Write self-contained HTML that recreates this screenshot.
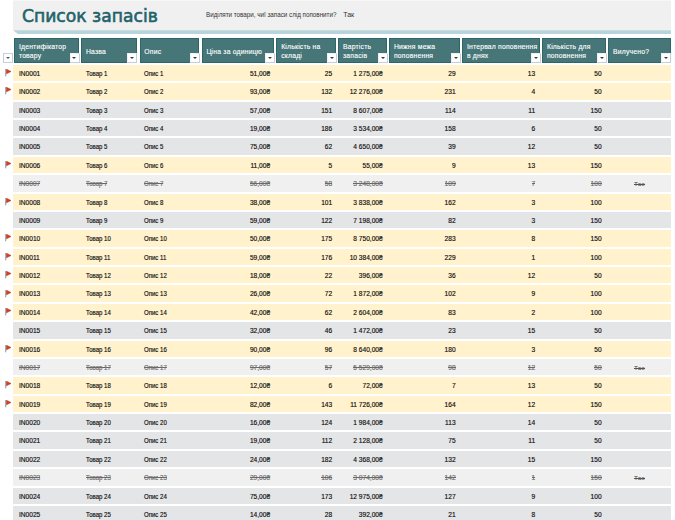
<!DOCTYPE html><html lang="uk"><head><meta charset="utf-8"><title>Список запасів</title><style>
*{margin:0;padding:0;box-sizing:border-box}
html,body{width:675px;height:520px;overflow:hidden;background:#fff}
body{position:relative;font-family:"Liberation Sans",sans-serif;color:#0d0d0d}
.a{position:absolute}
#ban{left:13px;top:0;width:658px;height:30.2px;background:#f0f0f0;border-top:1px solid #f7f7f7}
#stripe{left:13px;top:30.2px;width:658px;height:3.8px;background:#b6d4d9;clip-path:polygon(0 0,100% 0,100% 100%,5px 100%)}
#title{left:21.8px;top:3.4px;font-family:"DejaVu Sans","Liberation Sans",sans-serif;font-size:17.8px;line-height:26px;color:#22626a;white-space:nowrap;letter-spacing:0px;-webkit-text-stroke:0.6px #22626a;transform:scaleX(0.965);transform-origin:0 0}
#q{left:205.6px;top:10.3px;font-size:7.2px;line-height:9px;color:#333;white-space:nowrap;transform:scaleX(0.87);transform-origin:0 0}
#qa{left:343.2px;top:10.3px;font-size:7px;line-height:9px;color:#333;white-space:nowrap}
.h{background:#467677;border:1px solid #2d6669;color:#fff;font-size:6.8px;line-height:9.2px;font-weight:normal;-webkit-text-stroke:0.12px #fff;letter-spacing:0.2px}
.h span{position:absolute;left:3.8px;white-space:nowrap}
.fb{width:10px;height:10px;background:#fff;border:1px solid #c6ced9;border-top-color:#eef0f3;border-left-color:#eef0f3}
#fb0{border-color:#c6ced9}
#fb0:after{border-top-color:#5a5a5a;left:2.4px}
.fb:after{content:"";position:absolute;left:1.8px;top:2.8px;border-left:2.2px solid transparent;border-right:2.2px solid transparent;border-top:2.6px solid #3a3a3a}
.r{left:13px;width:657.7px;height:16.4px}
.F{background:#fff2cc}
.G{background:#e4e5e7}
.D{background:#f0f0f0;color:#6a6a6a}
.t{position:absolute;top:1.1px;line-height:16.4px;font-size:6.6px;white-space:nowrap;-webkit-text-stroke:0.15px currentColor}
.sx{transform:scaleX(0.915);transform-origin:0 0}
.D .t:after{content:"";position:absolute;left:0;right:0;top:7.1px;height:0.6px;background:currentColor}
.l{text-align:left}
.D .tk{font-size:5.6px;top:1.1px;color:#555;letter-spacing:0.6px}
.D .tk:after{top:7.6px;height:0.5px}
.rt{text-align:right}
.flag{width:8px;height:8px}
</style></head><body>
<div class="a" id="ban"></div><div class="a" id="stripe"></div>
<div class="a" id="title">Список запасів</div>
<div class="a" id="q">Виділяти товари, чиї запаси слід поповнити?</div>
<div class="a" id="qa">Так</div>
<div class="a h" style="left:14.10px;top:37.6px;width:64.80px;height:25.00px"><span style="top:3.4px">Ідентифікатор<br>товару</span></div>
<div class="a fb" style="left:69.60px;top:52.9px"></div>
<div class="a h" style="left:81.20px;top:37.6px;width:55.40px;height:25.00px"><span style="top:8.1px">Назва</span></div>
<div class="a fb" style="left:127.30px;top:52.9px"></div>
<div class="a h" style="left:139.50px;top:37.6px;width:59.90px;height:25.00px"><span style="top:8.1px">Опис</span></div>
<div class="a fb" style="left:190.10px;top:52.9px"></div>
<div class="a h" style="left:201.60px;top:37.6px;width:72.70px;height:25.00px"><span style="top:8.1px">Ціна за одиницю</span></div>
<div class="a fb" style="left:265.00px;top:52.9px"></div>
<div class="a h" style="left:276.40px;top:37.6px;width:59.80px;height:25.00px"><span style="top:3.4px">Кількість на<br>складі</span></div>
<div class="a fb" style="left:326.90px;top:52.9px"></div>
<div class="a h" style="left:338.20px;top:37.6px;width:49.00px;height:25.00px"><span style="top:3.4px">Вартість<br>запасів</span></div>
<div class="a fb" style="left:377.90px;top:52.9px"></div>
<div class="a h" style="left:389.20px;top:37.6px;width:71.00px;height:25.00px"><span style="top:3.4px">Нижня межа<br>поповнення</span></div>
<div class="a fb" style="left:450.90px;top:52.9px"></div>
<div class="a h" style="left:462.10px;top:37.6px;width:78.10px;height:25.00px"><span style="top:3.4px">Інтервал поповнення<br>в днях</span></div>
<div class="a fb" style="left:530.90px;top:52.9px"></div>
<div class="a h" style="left:542.20px;top:37.6px;width:64.00px;height:25.00px"><span style="top:3.4px">Кількість для<br>поповнення</span></div>
<div class="a fb" style="left:596.90px;top:52.9px"></div>
<div class="a h" style="left:608.30px;top:37.6px;width:62.40px;height:25.00px"><span style="top:8.1px">Вилучено?</span></div>
<div class="a fb" style="left:661.40px;top:52.9px"></div>
<div class="a fb" id="fb0" style="left:2.8px;top:52.9px"></div>
<div class="a r F" style="top:64.90px">
<span class="t" style="left:6.00px">IN0001</span>
<span class="t sx" style="left:73.00px">Товар 1</span>
<span class="t sx" style="left:131.00px">Опис 1</span>
<span class="t rt" style="right:400.60px">51,00₴</span>
<span class="t rt" style="right:338.50px">25</span>
<span class="t rt" style="right:288.00px">1 275,00₴</span>
<span class="t rt" style="right:215.10px">29</span>
<span class="t rt" style="right:135.50px">13</span>
<span class="t rt" style="right:69.10px">50</span>
</div>
<svg class="a flag" style="left:3.6px;top:69.10px" viewBox="0 0 8 8" width="8" height="8"><rect x="1.0" y="0" width="1.3" height="7.3" fill="#a4adb8"/><path d="M2.5 0.3 L7.0 2.5 L2.5 4.8 Z" fill="#d63d1f" stroke="#b02e16" stroke-width="0.5" stroke-linejoin="round"/></svg>
<div class="a r F" style="top:83.28px">
<span class="t" style="left:6.00px">IN0002</span>
<span class="t sx" style="left:73.00px">Товар 2</span>
<span class="t sx" style="left:131.00px">Опис 2</span>
<span class="t rt" style="right:400.60px">93,00₴</span>
<span class="t rt" style="right:338.50px">132</span>
<span class="t rt" style="right:288.00px">12 276,00₴</span>
<span class="t rt" style="right:215.10px">231</span>
<span class="t rt" style="right:135.50px">4</span>
<span class="t rt" style="right:69.10px">50</span>
</div>
<svg class="a flag" style="left:3.6px;top:87.48px" viewBox="0 0 8 8" width="8" height="8"><rect x="1.0" y="0" width="1.3" height="7.3" fill="#a4adb8"/><path d="M2.5 0.3 L7.0 2.5 L2.5 4.8 Z" fill="#d63d1f" stroke="#b02e16" stroke-width="0.5" stroke-linejoin="round"/></svg>
<div class="a r G" style="top:101.65px">
<span class="t" style="left:6.00px">IN0003</span>
<span class="t sx" style="left:73.00px">Товар 3</span>
<span class="t sx" style="left:131.00px">Опис 3</span>
<span class="t rt" style="right:400.60px">57,00₴</span>
<span class="t rt" style="right:338.50px">151</span>
<span class="t rt" style="right:288.00px">8 607,00₴</span>
<span class="t rt" style="right:215.10px">114</span>
<span class="t rt" style="right:135.50px">11</span>
<span class="t rt" style="right:69.10px">150</span>
</div>
<div class="a r G" style="top:120.03px">
<span class="t" style="left:6.00px">IN0004</span>
<span class="t sx" style="left:73.00px">Товар 4</span>
<span class="t sx" style="left:131.00px">Опис 4</span>
<span class="t rt" style="right:400.60px">19,00₴</span>
<span class="t rt" style="right:338.50px">186</span>
<span class="t rt" style="right:288.00px">3 534,00₴</span>
<span class="t rt" style="right:215.10px">158</span>
<span class="t rt" style="right:135.50px">6</span>
<span class="t rt" style="right:69.10px">50</span>
</div>
<div class="a r G" style="top:138.40px">
<span class="t" style="left:6.00px">IN0005</span>
<span class="t sx" style="left:73.00px">Товар 5</span>
<span class="t sx" style="left:131.00px">Опис 5</span>
<span class="t rt" style="right:400.60px">75,00₴</span>
<span class="t rt" style="right:338.50px">62</span>
<span class="t rt" style="right:288.00px">4 650,00₴</span>
<span class="t rt" style="right:215.10px">39</span>
<span class="t rt" style="right:135.50px">12</span>
<span class="t rt" style="right:69.10px">50</span>
</div>
<div class="a r F" style="top:156.78px">
<span class="t" style="left:6.00px">IN0006</span>
<span class="t sx" style="left:73.00px">Товар 6</span>
<span class="t sx" style="left:131.00px">Опис 6</span>
<span class="t rt" style="right:400.60px">11,00₴</span>
<span class="t rt" style="right:338.50px">5</span>
<span class="t rt" style="right:288.00px">55,00₴</span>
<span class="t rt" style="right:215.10px">9</span>
<span class="t rt" style="right:135.50px">13</span>
<span class="t rt" style="right:69.10px">150</span>
</div>
<svg class="a flag" style="left:3.6px;top:160.97px" viewBox="0 0 8 8" width="8" height="8"><rect x="1.0" y="0" width="1.3" height="7.3" fill="#a4adb8"/><path d="M2.5 0.3 L7.0 2.5 L2.5 4.8 Z" fill="#d63d1f" stroke="#b02e16" stroke-width="0.5" stroke-linejoin="round"/></svg>
<div class="a r D" style="top:175.15px">
<span class="t" style="left:6.00px">IN0007</span>
<span class="t sx" style="left:73.00px">Товар 7</span>
<span class="t sx" style="left:131.00px">Опис 7</span>
<span class="t rt" style="right:400.60px">56,00₴</span>
<span class="t rt" style="right:338.50px">58</span>
<span class="t rt" style="right:288.00px">3 248,00₴</span>
<span class="t rt" style="right:215.10px">109</span>
<span class="t rt" style="right:135.50px">7</span>
<span class="t rt" style="right:69.10px">100</span>
<span class="t tk" style="left:621.20px">Так</span>
</div>
<div class="a r F" style="top:193.53px">
<span class="t" style="left:6.00px">IN0008</span>
<span class="t sx" style="left:73.00px">Товар 8</span>
<span class="t sx" style="left:131.00px">Опис 8</span>
<span class="t rt" style="right:400.60px">38,00₴</span>
<span class="t rt" style="right:338.50px">101</span>
<span class="t rt" style="right:288.00px">3 838,00₴</span>
<span class="t rt" style="right:215.10px">162</span>
<span class="t rt" style="right:135.50px">3</span>
<span class="t rt" style="right:69.10px">100</span>
</div>
<svg class="a flag" style="left:3.6px;top:197.72px" viewBox="0 0 8 8" width="8" height="8"><rect x="1.0" y="0" width="1.3" height="7.3" fill="#a4adb8"/><path d="M2.5 0.3 L7.0 2.5 L2.5 4.8 Z" fill="#d63d1f" stroke="#b02e16" stroke-width="0.5" stroke-linejoin="round"/></svg>
<div class="a r G" style="top:211.90px">
<span class="t" style="left:6.00px">IN0009</span>
<span class="t sx" style="left:73.00px">Товар 9</span>
<span class="t sx" style="left:131.00px">Опис 9</span>
<span class="t rt" style="right:400.60px">59,00₴</span>
<span class="t rt" style="right:338.50px">122</span>
<span class="t rt" style="right:288.00px">7 198,00₴</span>
<span class="t rt" style="right:215.10px">82</span>
<span class="t rt" style="right:135.50px">3</span>
<span class="t rt" style="right:69.10px">150</span>
</div>
<div class="a r F" style="top:230.28px">
<span class="t" style="left:6.00px">IN0010</span>
<span class="t sx" style="left:73.00px">Товар 10</span>
<span class="t sx" style="left:131.00px">Опис 10</span>
<span class="t rt" style="right:400.60px">50,00₴</span>
<span class="t rt" style="right:338.50px">175</span>
<span class="t rt" style="right:288.00px">8 750,00₴</span>
<span class="t rt" style="right:215.10px">283</span>
<span class="t rt" style="right:135.50px">8</span>
<span class="t rt" style="right:69.10px">150</span>
</div>
<svg class="a flag" style="left:3.6px;top:234.47px" viewBox="0 0 8 8" width="8" height="8"><rect x="1.0" y="0" width="1.3" height="7.3" fill="#a4adb8"/><path d="M2.5 0.3 L7.0 2.5 L2.5 4.8 Z" fill="#d63d1f" stroke="#b02e16" stroke-width="0.5" stroke-linejoin="round"/></svg>
<div class="a r F" style="top:248.65px">
<span class="t" style="left:6.00px">IN0011</span>
<span class="t sx" style="left:73.00px">Товар 11</span>
<span class="t sx" style="left:131.00px">Опис 11</span>
<span class="t rt" style="right:400.60px">59,00₴</span>
<span class="t rt" style="right:338.50px">176</span>
<span class="t rt" style="right:288.00px">10 384,00₴</span>
<span class="t rt" style="right:215.10px">229</span>
<span class="t rt" style="right:135.50px">1</span>
<span class="t rt" style="right:69.10px">100</span>
</div>
<svg class="a flag" style="left:3.6px;top:252.85px" viewBox="0 0 8 8" width="8" height="8"><rect x="1.0" y="0" width="1.3" height="7.3" fill="#a4adb8"/><path d="M2.5 0.3 L7.0 2.5 L2.5 4.8 Z" fill="#d63d1f" stroke="#b02e16" stroke-width="0.5" stroke-linejoin="round"/></svg>
<div class="a r F" style="top:267.02px">
<span class="t" style="left:6.00px">IN0012</span>
<span class="t sx" style="left:73.00px">Товар 12</span>
<span class="t sx" style="left:131.00px">Опис 12</span>
<span class="t rt" style="right:400.60px">18,00₴</span>
<span class="t rt" style="right:338.50px">22</span>
<span class="t rt" style="right:288.00px">396,00₴</span>
<span class="t rt" style="right:215.10px">36</span>
<span class="t rt" style="right:135.50px">12</span>
<span class="t rt" style="right:69.10px">50</span>
</div>
<svg class="a flag" style="left:3.6px;top:271.22px" viewBox="0 0 8 8" width="8" height="8"><rect x="1.0" y="0" width="1.3" height="7.3" fill="#a4adb8"/><path d="M2.5 0.3 L7.0 2.5 L2.5 4.8 Z" fill="#d63d1f" stroke="#b02e16" stroke-width="0.5" stroke-linejoin="round"/></svg>
<div class="a r F" style="top:285.40px">
<span class="t" style="left:6.00px">IN0013</span>
<span class="t sx" style="left:73.00px">Товар 13</span>
<span class="t sx" style="left:131.00px">Опис 13</span>
<span class="t rt" style="right:400.60px">26,00₴</span>
<span class="t rt" style="right:338.50px">72</span>
<span class="t rt" style="right:288.00px">1 872,00₴</span>
<span class="t rt" style="right:215.10px">102</span>
<span class="t rt" style="right:135.50px">9</span>
<span class="t rt" style="right:69.10px">100</span>
</div>
<svg class="a flag" style="left:3.6px;top:289.60px" viewBox="0 0 8 8" width="8" height="8"><rect x="1.0" y="0" width="1.3" height="7.3" fill="#a4adb8"/><path d="M2.5 0.3 L7.0 2.5 L2.5 4.8 Z" fill="#d63d1f" stroke="#b02e16" stroke-width="0.5" stroke-linejoin="round"/></svg>
<div class="a r F" style="top:303.77px">
<span class="t" style="left:6.00px">IN0014</span>
<span class="t sx" style="left:73.00px">Товар 14</span>
<span class="t sx" style="left:131.00px">Опис 14</span>
<span class="t rt" style="right:400.60px">42,00₴</span>
<span class="t rt" style="right:338.50px">62</span>
<span class="t rt" style="right:288.00px">2 604,00₴</span>
<span class="t rt" style="right:215.10px">83</span>
<span class="t rt" style="right:135.50px">2</span>
<span class="t rt" style="right:69.10px">100</span>
</div>
<svg class="a flag" style="left:3.6px;top:307.97px" viewBox="0 0 8 8" width="8" height="8"><rect x="1.0" y="0" width="1.3" height="7.3" fill="#a4adb8"/><path d="M2.5 0.3 L7.0 2.5 L2.5 4.8 Z" fill="#d63d1f" stroke="#b02e16" stroke-width="0.5" stroke-linejoin="round"/></svg>
<div class="a r G" style="top:322.15px">
<span class="t" style="left:6.00px">IN0015</span>
<span class="t sx" style="left:73.00px">Товар 15</span>
<span class="t sx" style="left:131.00px">Опис 15</span>
<span class="t rt" style="right:400.60px">32,00₴</span>
<span class="t rt" style="right:338.50px">46</span>
<span class="t rt" style="right:288.00px">1 472,00₴</span>
<span class="t rt" style="right:215.10px">23</span>
<span class="t rt" style="right:135.50px">15</span>
<span class="t rt" style="right:69.10px">50</span>
</div>
<div class="a r F" style="top:340.52px">
<span class="t" style="left:6.00px">IN0016</span>
<span class="t sx" style="left:73.00px">Товар 16</span>
<span class="t sx" style="left:131.00px">Опис 16</span>
<span class="t rt" style="right:400.60px">90,00₴</span>
<span class="t rt" style="right:338.50px">96</span>
<span class="t rt" style="right:288.00px">8 640,00₴</span>
<span class="t rt" style="right:215.10px">180</span>
<span class="t rt" style="right:135.50px">3</span>
<span class="t rt" style="right:69.10px">50</span>
</div>
<svg class="a flag" style="left:3.6px;top:344.72px" viewBox="0 0 8 8" width="8" height="8"><rect x="1.0" y="0" width="1.3" height="7.3" fill="#a4adb8"/><path d="M2.5 0.3 L7.0 2.5 L2.5 4.8 Z" fill="#d63d1f" stroke="#b02e16" stroke-width="0.5" stroke-linejoin="round"/></svg>
<div class="a r D" style="top:358.90px">
<span class="t" style="left:6.00px">IN0017</span>
<span class="t sx" style="left:73.00px">Товар 17</span>
<span class="t sx" style="left:131.00px">Опис 17</span>
<span class="t rt" style="right:400.60px">97,00₴</span>
<span class="t rt" style="right:338.50px">57</span>
<span class="t rt" style="right:288.00px">5 529,00₴</span>
<span class="t rt" style="right:215.10px">98</span>
<span class="t rt" style="right:135.50px">12</span>
<span class="t rt" style="right:69.10px">50</span>
<span class="t tk" style="left:621.20px">Так</span>
</div>
<div class="a r F" style="top:377.27px">
<span class="t" style="left:6.00px">IN0018</span>
<span class="t sx" style="left:73.00px">Товар 18</span>
<span class="t sx" style="left:131.00px">Опис 18</span>
<span class="t rt" style="right:400.60px">12,00₴</span>
<span class="t rt" style="right:338.50px">6</span>
<span class="t rt" style="right:288.00px">72,00₴</span>
<span class="t rt" style="right:215.10px">7</span>
<span class="t rt" style="right:135.50px">13</span>
<span class="t rt" style="right:69.10px">50</span>
</div>
<svg class="a flag" style="left:3.6px;top:381.47px" viewBox="0 0 8 8" width="8" height="8"><rect x="1.0" y="0" width="1.3" height="7.3" fill="#a4adb8"/><path d="M2.5 0.3 L7.0 2.5 L2.5 4.8 Z" fill="#d63d1f" stroke="#b02e16" stroke-width="0.5" stroke-linejoin="round"/></svg>
<div class="a r F" style="top:395.65px">
<span class="t" style="left:6.00px">IN0019</span>
<span class="t sx" style="left:73.00px">Товар 19</span>
<span class="t sx" style="left:131.00px">Опис 19</span>
<span class="t rt" style="right:400.60px">82,00₴</span>
<span class="t rt" style="right:338.50px">143</span>
<span class="t rt" style="right:288.00px">11 726,00₴</span>
<span class="t rt" style="right:215.10px">164</span>
<span class="t rt" style="right:135.50px">12</span>
<span class="t rt" style="right:69.10px">150</span>
</div>
<svg class="a flag" style="left:3.6px;top:399.85px" viewBox="0 0 8 8" width="8" height="8"><rect x="1.0" y="0" width="1.3" height="7.3" fill="#a4adb8"/><path d="M2.5 0.3 L7.0 2.5 L2.5 4.8 Z" fill="#d63d1f" stroke="#b02e16" stroke-width="0.5" stroke-linejoin="round"/></svg>
<div class="a r G" style="top:414.02px">
<span class="t" style="left:6.00px">IN0020</span>
<span class="t sx" style="left:73.00px">Товар 20</span>
<span class="t sx" style="left:131.00px">Опис 20</span>
<span class="t rt" style="right:400.60px">16,00₴</span>
<span class="t rt" style="right:338.50px">124</span>
<span class="t rt" style="right:288.00px">1 984,00₴</span>
<span class="t rt" style="right:215.10px">113</span>
<span class="t rt" style="right:135.50px">14</span>
<span class="t rt" style="right:69.10px">50</span>
</div>
<div class="a r G" style="top:432.40px">
<span class="t" style="left:6.00px">IN0021</span>
<span class="t sx" style="left:73.00px">Товар 21</span>
<span class="t sx" style="left:131.00px">Опис 21</span>
<span class="t rt" style="right:400.60px">19,00₴</span>
<span class="t rt" style="right:338.50px">112</span>
<span class="t rt" style="right:288.00px">2 128,00₴</span>
<span class="t rt" style="right:215.10px">75</span>
<span class="t rt" style="right:135.50px">11</span>
<span class="t rt" style="right:69.10px">50</span>
</div>
<div class="a r G" style="top:450.77px">
<span class="t" style="left:6.00px">IN0022</span>
<span class="t sx" style="left:73.00px">Товар 22</span>
<span class="t sx" style="left:131.00px">Опис 22</span>
<span class="t rt" style="right:400.60px">24,00₴</span>
<span class="t rt" style="right:338.50px">182</span>
<span class="t rt" style="right:288.00px">4 368,00₴</span>
<span class="t rt" style="right:215.10px">132</span>
<span class="t rt" style="right:135.50px">15</span>
<span class="t rt" style="right:69.10px">150</span>
</div>
<div class="a r D" style="top:469.15px">
<span class="t" style="left:6.00px">IN0023</span>
<span class="t sx" style="left:73.00px">Товар 23</span>
<span class="t sx" style="left:131.00px">Опис 23</span>
<span class="t rt" style="right:400.60px">29,00₴</span>
<span class="t rt" style="right:338.50px">106</span>
<span class="t rt" style="right:288.00px">3 074,00₴</span>
<span class="t rt" style="right:215.10px">142</span>
<span class="t rt" style="right:135.50px">1</span>
<span class="t rt" style="right:69.10px">150</span>
<span class="t tk" style="left:621.20px">Так</span>
</div>
<div class="a r G" style="top:487.52px">
<span class="t" style="left:6.00px">IN0024</span>
<span class="t sx" style="left:73.00px">Товар 24</span>
<span class="t sx" style="left:131.00px">Опис 24</span>
<span class="t rt" style="right:400.60px">75,00₴</span>
<span class="t rt" style="right:338.50px">173</span>
<span class="t rt" style="right:288.00px">12 975,00₴</span>
<span class="t rt" style="right:215.10px">127</span>
<span class="t rt" style="right:135.50px">9</span>
<span class="t rt" style="right:69.10px">100</span>
</div>
<div class="a r G" style="top:505.90px">
<span class="t" style="left:6.00px">IN0025</span>
<span class="t sx" style="left:73.00px">Товар 25</span>
<span class="t sx" style="left:131.00px">Опис 25</span>
<span class="t rt" style="right:400.60px">14,00₴</span>
<span class="t rt" style="right:338.50px">28</span>
<span class="t rt" style="right:288.00px">392,00₴</span>
<span class="t rt" style="right:215.10px">21</span>
<span class="t rt" style="right:135.50px">8</span>
<span class="t rt" style="right:69.10px">50</span>
</div>
</body></html>
